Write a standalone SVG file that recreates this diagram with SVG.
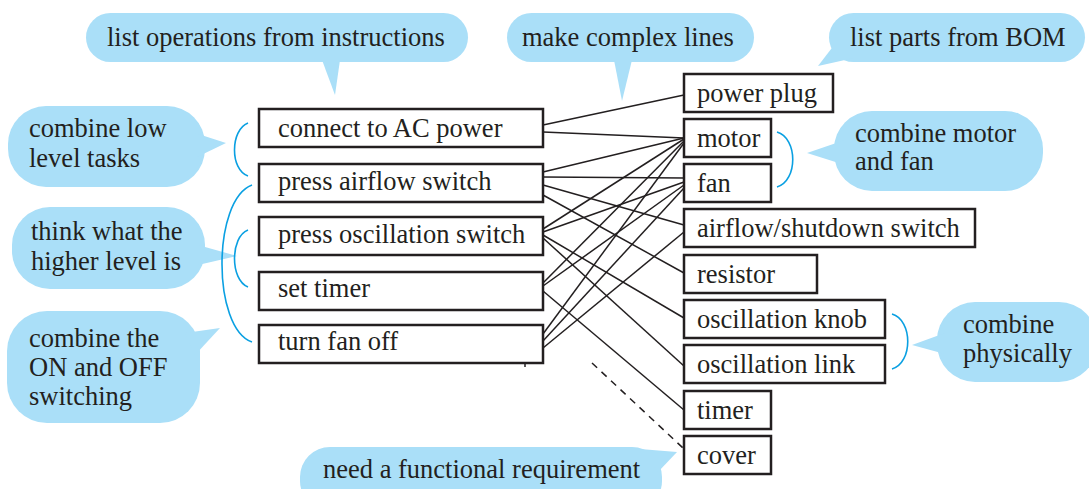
<svg xmlns="http://www.w3.org/2000/svg" width="1089" height="489" viewBox="0 0 1089 489" font-family="Liberation Serif, Times New Roman, DejaVu Serif, serif">
<style>
.t{font-size:26.5px;fill:#231f20}
.box{fill:#fff;stroke:#231f20;stroke-width:2.5}
.bub{fill:#aadff8}
.br{fill:none;stroke:#0aa0e2;stroke-width:1.6}
.ln{stroke:#231f20;stroke-width:1.5;fill:none}
</style>
<rect width="1089" height="489" fill="#fff"/>
<g id="callouts">
<g id="c-list-ops"><rect class="bub" x="86" y="13" width="382" height="49" rx="24.5"/><polygon class="bub" points="322,60 335,95 340,60"/><text class="t" x="107" y="46" font-family="Liberation Serif, serif">list operations from instructions</text></g>
<g id="c-complex"><rect class="bub" x="507" y="13" width="247" height="49" rx="24.5"/><polygon class="bub" points="614,60 622,101 632,60"/><text class="t" x="522" y="46">make complex lines</text></g>
<g id="c-bom"><rect class="bub" x="829" y="13" width="256" height="49" rx="24.5"/><polygon class="bub" points="838,40 818,66 854,58"/><text class="t" x="850" y="46">list parts from BOM</text></g>
<g id="c-low"><rect class="bub" x="8" y="106" width="197" height="81" rx="38"/><polygon class="bub" points="195,133 226,143 195,158"/><text class="t" x="29" y="137">combine low</text><text class="t" x="29" y="167">level tasks</text></g>
<g id="c-think"><rect class="bub" x="12" y="207" width="193" height="82" rx="38"/><polygon class="bub" points="198,245 237,256 198,265"/><text class="t" x="31" y="240">think what the</text><text class="t" x="31" y="270">higher level is</text></g>
<g id="c-onoff"><rect class="bub" x="7" y="311" width="193" height="112" rx="40"/><polygon class="bub" points="185,333 220,328 195,355"/><text class="t" x="29" y="347">combine the</text><text class="t" x="29" y="376">ON and OFF</text><text class="t" x="29" y="405">switching</text></g>
<g id="c-motorfan"><rect class="bub" x="834" y="111" width="209" height="80" rx="38"/><polygon class="bub" points="845,140 807,153 845,165"/><text class="t" x="855" y="142">combine motor</text><text class="t" x="855" y="170">and fan</text></g>
<g id="c-phys"><rect class="bub" x="937" y="302" width="160" height="80" rx="38"/><polygon class="bub" points="945,333 912,345 945,354"/><text class="t" x="963" y="333">combine</text><text class="t" x="963" y="362">physically</text></g>
<g id="c-func"><rect class="bub" x="300" y="447" width="362" height="64" rx="30"/><polygon class="bub" points="640,449 677,452 658,472"/><text class="t" x="323" y="478">need a functional requirement</text></g>
</g>
<g id="brackets">
<path class="br" d="M248,123 C230,130 230,170 248,176"/>
<path class="br" d="M252,185 C212,200 212,328 252,342"/>
<path class="br" d="M248,230 C230,237 230,280 248,287"/>
<path class="br" d="M777,132 C798,138 798,181 777,187"/>
<path class="br" d="M892,314 C913,320 913,363 892,369"/>
</g>
<g id="connectors">
<line class="ln" x1="543" y1="125" x2="684" y2="95"/>
<line class="ln" x1="543" y1="132" x2="684" y2="138"/>
<line class="ln" x1="543" y1="172" x2="684" y2="138"/>
<line class="ln" x1="543" y1="177" x2="684" y2="178"/>
<line class="ln" x1="543" y1="185" x2="684" y2="225"/>
<line class="ln" x1="543" y1="195" x2="684" y2="273"/>
<line class="ln" x1="543" y1="229" x2="684" y2="139"/>
<line class="ln" x1="543" y1="232" x2="684" y2="182"/>
<line class="ln" x1="543" y1="235" x2="684" y2="318"/>
<line class="ln" x1="543" y1="238" x2="684" y2="366"/>
<line class="ln" x1="543" y1="283" x2="684" y2="141"/>
<line class="ln" x1="543" y1="286" x2="684" y2="185"/>
<line class="ln" x1="543" y1="291" x2="684" y2="410"/>
<line class="ln" x1="543" y1="334" x2="684" y2="143"/>
<line class="ln" x1="543" y1="341" x2="684" y2="188"/>
<line class="ln" x1="543" y1="348" x2="684" y2="232"/>
<line class="ln" x1="592" y1="363" x2="683" y2="448" stroke-dasharray="7,6"/>
<line class="ln" x1="525" y1="363" x2="525" y2="367" stroke-width="1"/>
</g>
<g id="operations">
<g id="op-connect"><rect class="box" x="259" y="109" width="284" height="38"/><text class="t" x="278" y="137">connect to AC power</text></g>
<g id="op-airflow"><rect class="box" x="259" y="164" width="284" height="38"/><text class="t" x="278" y="190">press airflow switch</text></g>
<g id="op-osc"><rect class="box" x="259" y="217" width="284" height="38"/><text class="t" x="278" y="243">press oscillation switch</text></g>
<g id="op-timer"><rect class="box" x="259" y="272" width="284" height="38"/><text class="t" x="278" y="297">set timer</text></g>
<g id="op-off"><rect class="box" x="259" y="325" width="284" height="38"/><text class="t" x="278" y="350">turn fan off</text></g>
</g>
<g id="parts">
<g id="p-plug"><rect class="box" x="684" y="74" width="149" height="38"/><text class="t" x="697" y="102">power plug</text></g>
<g id="p-motor"><rect class="box" x="684" y="119" width="87" height="38"/><text class="t" x="697" y="147">motor</text></g>
<g id="p-fan"><rect class="box" x="684" y="164" width="87" height="38"/><text class="t" x="697" y="192">fan</text></g>
<g id="p-switch"><rect class="box" x="684" y="209" width="291" height="38"/><text class="t" x="697" y="237">airflow/shutdown switch</text></g>
<g id="p-resistor"><rect class="box" x="684" y="255" width="133" height="38"/><text class="t" x="697" y="283">resistor</text></g>
<g id="p-knob"><rect class="box" x="684" y="300" width="201" height="38"/><text class="t" x="697" y="328">oscillation knob</text></g>
<g id="p-link"><rect class="box" x="684" y="345" width="201" height="38"/><text class="t" x="697" y="373">oscillation link</text></g>
<g id="p-timer"><rect class="box" x="684" y="391" width="87" height="38"/><text class="t" x="697" y="419">timer</text></g>
<g id="p-cover"><rect class="box" x="684" y="436" width="87" height="38"/><text class="t" x="697" y="464">cover</text></g>
</g>
</svg>
